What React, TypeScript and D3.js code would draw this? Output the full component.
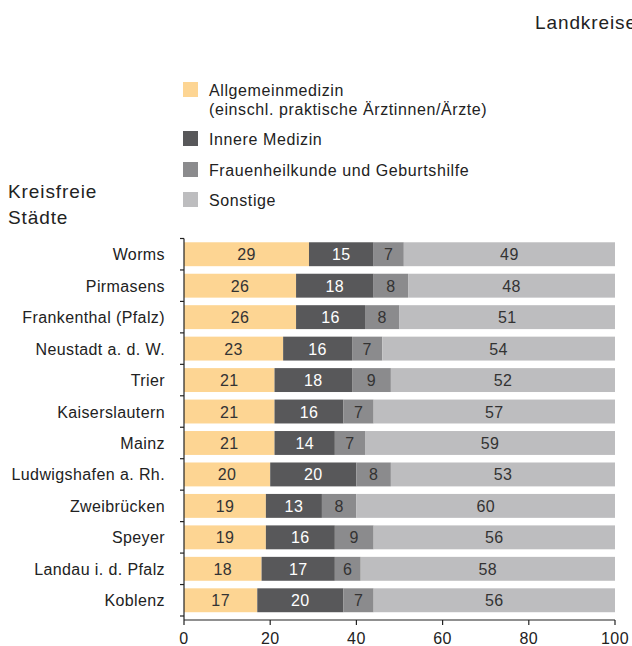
import React from "react";
import * as d3 from "d3";

const categories = [
  "Worms",
  "Pirmasens",
  "Frankenthal (Pfalz)",
  "Neustadt a. d. W.",
  "Trier",
  "Kaiserslautern",
  "Mainz",
  "Ludwigshafen a. Rh.",
  "Zweibrücken",
  "Speyer",
  "Landau i. d. Pfalz",
  "Koblenz",
];
const allgemein = [29, 26, 26, 23, 21, 21, 21, 20, 19, 19, 18, 17];
const innere = [15, 18, 16, 16, 18, 16, 14, 20, 13, 16, 17, 20];
const frauen = [7, 8, 8, 7, 9, 7, 7, 8, 8, 9, 6, 7];
const sonstige = [49, 48, 51, 54, 52, 57, 59, 53, 60, 56, 58, 56];
const seriesNames = [
  ["Allgemeinmedizin", "(einschl. praktische Ärztinnen/Ärzte)"],
  ["Innere Medizin"],
  ["Frauenheilkunde und Geburtshilfe"],
  ["Sonstige"],
];
const xTicks = [0, 20, 40, 60, 80, 100];

const colors = ["#FDD593", "#58585A", "#8B8B8D", "#BDBDBF"];
const textColors = ["#333333", "#FFFFFF", "#333333", "#333333"];
const FONT = "'Liberation Sans', Arial, Helvetica, sans-serif";

export default function App() {
  const W = 632, H = 646;
  const x = d3.scaleLinear().domain([0, 100]).range([184, 615]);
  const y = d3.scaleBand<string>().domain(categories).range([238.5, 616]).paddingInner(0.24).paddingOuter(0.12);
  const step = y.step();
  const series = [allgemein, innere, frauen, sonstige];

  const rows = categories.map((c, i) => {
    let acc = 0;
    const segs = series.map((s, k) => {
      const v = s[i];
      const x0 = acc;
      let x1 = acc + v;
      if (k === series.length - 1) x1 = 100;
      x1 = Math.min(100, x1);
      acc += v;
      return { k, v, x0, x1 };
    });
    return { c, segs };
  });

  const legendY = [90, 139, 170, 200];

  return (
    <svg width={W} height={H} style={{ position: "absolute", left: 0, top: 0 }} fontFamily={FONT}>
      <rect width={W} height={H} fill="#fff" />
      <text x={535} y={29} fontSize={19} letterSpacing={0.9} fill="#222">Landkreise</text>
      <text x={8} y={198} fontSize={19} letterSpacing={0.9} fill="#222">Kreisfreie</text>
      <text x={8} y={224} fontSize={19} letterSpacing={0.9} fill="#222">Städte</text>

      {seriesNames.map((names, k) => (
        <g key={k}>
          <rect x={183} y={legendY[k] - 8} width={15} height={15} fill={colors[k]} />
          {names.map((n, j) => (
            <text key={j} x={209} y={legendY[k] + 5.5 + j * 19} fontSize={16} letterSpacing={0.6} fill="#222">{n}</text>
          ))}
        </g>
      ))}

      {rows.map((r) => (
        <g key={r.c}>
          {r.segs.map((s) => (
            <rect key={s.k} x={x(s.x0)} y={y(r.c)!} width={x(s.x1) - x(s.x0)} height={y.bandwidth()} fill={colors[s.k]} />
          ))}
          {r.segs.map((s) => (
            <text key={"t" + s.k} x={(x(s.x0) + x(s.x1)) / 2} y={y(r.c)! + y.bandwidth() / 2 + 6}
              textAnchor="middle" fontSize={16} letterSpacing={0.4} fill={textColors[s.k]}>{s.v}</text>
          ))}
          <text x={165} y={y(r.c)! + y.bandwidth() / 2 + 6} textAnchor="end" fontSize={16} letterSpacing={0.4} fill="#222">{r.c}</text>
        </g>
      ))}

      <line x1={184} x2={184} y1={238.5} y2={620} stroke="#222" strokeWidth={1.2} />
      {d3.range(categories.length + 1).map((i) => (
        <line key={i} x1={180} x2={184} y1={238.5 + i * step} y2={238.5 + i * step} stroke="#222" strokeWidth={1.2} />
      ))}
      <line x1={184} x2={615} y1={620} y2={620} stroke="#222" strokeWidth={1.2} />
      {xTicks.map((t) => (
        <g key={t}>
          <line x1={x(t)} x2={x(t)} y1={620} y2={625} stroke="#222" strokeWidth={1.2} />
          <text x={x(t)} y={644} textAnchor="middle" fontSize={16} letterSpacing={0.4} fill="#222">{t}</text>
        </g>
      ))}
    </svg>
  );
}
